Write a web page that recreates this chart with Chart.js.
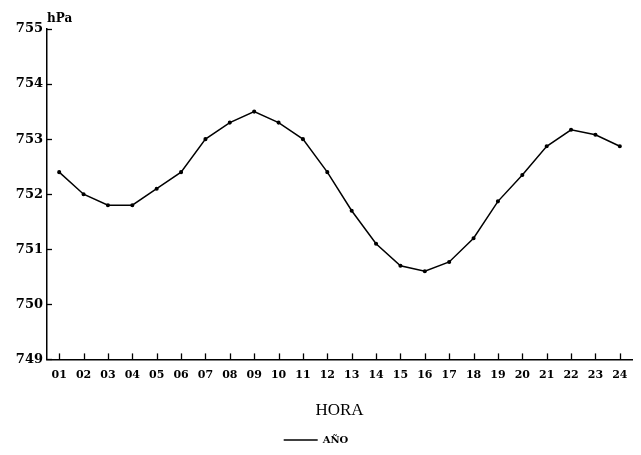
<!DOCTYPE html>
<html>
<head>
<meta charset="utf-8">
<script src="https://cdn.jsdelivr.net/npm/chart.js@4/dist/chart.umd.min.js"></script>
<style>
html,body{margin:0;padding:0;background:#fff;}
#wrap{width:641px;height:455px;}
</style>
</head>
<body>
<div id="wrap"><canvas id="c" width="641" height="455"></canvas></div>
<script>
const hours = ["01","02","03","04","05","06","07","08","09","10","11","12","13","14","15","16","17","18","19","20","21","22","23","24"];
const pressureAno = [752.4,752.0,751.8,751.8,752.1,752.4,753.0,753.3,753.5,753.3,753.0,752.4,751.7,751.1,750.7,750.6,750.77,751.2,751.87,752.35,752.87,753.17,753.08,752.87];
const yMin = 749, yMax = 755;
const seriesName = "AÑO";
const xTitle = "HORA";
const yUnit = "hPa";

const inwardTicks = {
  id: 'inwardTicks',
  afterDraw(chart) {
    const ctx = chart.ctx;
    const x = chart.scales.x, y = chart.scales.y;
    const area = chart.chartArea;
    ctx.save();
    ctx.strokeStyle = '#000';
    ctx.lineWidth = 1.3;
    y.ticks.forEach(t => {
      const py = Math.round(y.getPixelForValue(t.value)) + 0.5;
      ctx.beginPath(); ctx.moveTo(area.left, py); ctx.lineTo(area.left + 5, py); ctx.stroke();
    });
    hours.forEach((h, i) => {
      const px = Math.round(x.getPixelForValue(i)) + 0.5;
      ctx.beginPath(); ctx.moveTo(px, area.bottom); ctx.lineTo(px, area.bottom - 6); ctx.stroke();
    });
    ctx.fillStyle = '#000';
    ctx.font = 'bold 12px "DejaVu Serif"';
    ctx.textAlign = 'left';
    ctx.textBaseline = 'bottom';
    ctx.fillText(yUnit, area.left, area.top - 4);
    ctx.restore();
  }
};

new Chart(document.getElementById('c'), {
  type: 'line',
  data: {
    labels: hours,
    datasets: [{
      label: seriesName,
      data: pressureAno,
      borderColor: '#000',
      backgroundColor: '#000',
      borderWidth: 1.5,
      pointRadius: 1.3,
      pointBackgroundColor: '#000',
      pointBorderColor: '#000',
      pointBorderWidth: 1.5,
      tension: 0
    }]
  },
  options: {
    responsive: false,
    animation: false,
    layout: { padding: { top: 29, right: 9, left: 0, bottom: 0 } },
    plugins: {
      legend: {
        position: 'bottom',
        labels: {
          usePointStyle: true,
          pointStyle: 'line',
          pointStyleWidth: 34,
          boxWidth: 34,
          color: '#000',
          font: { family: 'DejaVu Serif', size: 10, weight: 'bold' },
          padding: 5
        }
      },
      tooltip: { enabled: false }
    },
    scales: {
      x: {
        type: 'category',
        offset: true,
        border: { display: true, color: '#000', width: 1.5 },
        grid: { display: false, drawTicks: false },
        ticks: { color: '#000', font: { family: 'DejaVu Serif', size: 11, weight: 'bold' }, padding: 9, maxRotation: 0, autoSkip: false },
        title: { display: true, text: xTitle, color: '#000', font: { family: 'Liberation Serif', size: 17 }, padding: { top: 10, bottom: 9 } }
      },
      y: {
        min: yMin, max: yMax,
        border: { display: true, color: '#000', width: 1.5 },
        grid: { display: false, drawTicks: false },
        ticks: { stepSize: 1, color: '#000', font: { family: 'DejaVu Serif', size: 13, weight: 'bold' }, padding: 4 },
        afterFit(scale) { scale.width = 47; }
      }
    }
  },
  plugins: [inwardTicks]
});
</script>
</body>
</html>
